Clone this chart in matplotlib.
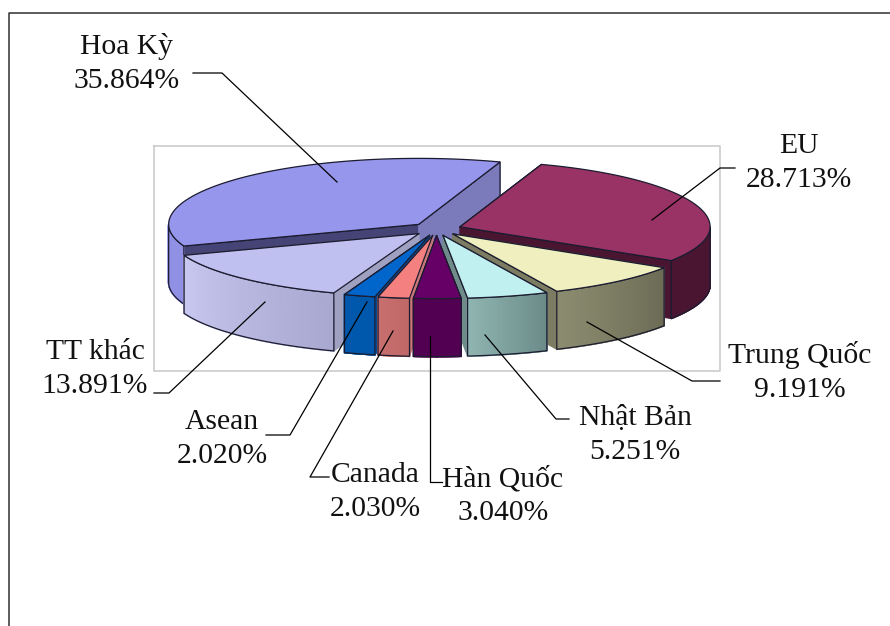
#! /usr/bin/python3
# -*- coding: utf-8 -*-

import matplotlib
matplotlib.use("Agg")
import matplotlib.pyplot as plt
import numpy as np
from matplotlib.colors import to_rgb
from matplotlib.patches import Polygon

# data, clockwise from the EU slice
names = ["EU", "Trung Quốc", "Nhật Bản", "Hàn Quốc", "Canada", "Asean", "TT khác", "Hoa Kỳ"]
values = [28.713, 9.191, 5.251, 3.040, 2.030, 2.020, 13.891, 35.864]

top_colors = ["#993366", "#efefc0", "#c0f0f0", "#660066", "#f48080", "#0066cc", "#c0c0f0", "#9696ec"]
rim_left = ["#4a1530", "#8c8c70", "#90b6b2", "#520052", "#c87070", "#0058ac", "#c8c8f0", "#9090e4"]
rim_right = ["#4a1530", "#6c6c56", "#6c8c8a", "#520052", "#c06868", "#0058ac", "#a8a8d0", "#9090e4"]
start_face = ["#4a1530", "#7c7c62", "#7c9a98", "#520052", "#c87878", "#004a94", "#a0a0c0", "#444477"]
end_face = ["#4a1530", "#7c7c62", "#6f8c8a", "#520052", "#c87878", "#004a94", "#a0a0c0", "#7b7bbb"]

# pie geometry in pixels, the front half is a bit flatter than the back
cx, cy = 436.5, 229
rx, ry_back, ry_front = 250, 66, 63
depth = 58
explode = 0.1
start_angle = 19

# label centre, leader line
label_pos = {
    "Hoa Kỳ": (127, 63), "EU": (799, 163), "Trung Quốc": (800, 372), "Nhật Bản": (635, 435),
    "Hàn Quốc": (503, 496), "Canada": (375, 492), "Asean": (222, 439), "TT khác": (95, 369),
}
leaders = {
    "Hoa Kỳ": [(193, 73), (222, 73), (337, 182)],
    "EU": [(735, 168), (720, 168), (652, 220)],
    "Trung Quốc": [(720, 381), (692, 381), (587, 322)],
    "Nhật Bản": [(569, 419), (556, 419), (485, 335)],
    "Hàn Quốc": [(442, 482), (430, 482), (430, 336)],
    "Canada": [(329, 477), (310, 477), (393, 331)],
    "Asean": [(266, 435), (290, 435), (367, 302)],
    "TT khác": [(154, 393), (169, 393), (265, 302)],
}
draw_order = ["Hoa Kỳ", "EU", "TT khác", "Trung Quốc", "Asean", "Nhật Bản", "Canada", "Hàn Quốc"]
edge = "#1c1c30"


def rim_point(ax0, ay0, theta):
    t = np.radians(theta)
    c = np.cos(t)
    return ax0 + rx * np.sin(t), ay0 - np.where(c > 0, ry_back, ry_front) * c


fig = plt.figure(figsize=(8.9, 6.26), dpi=100)
ax = fig.add_axes([0, 0, 1, 1])
ax.set_xlim(0, 890)
ax.set_ylim(626, 0)
ax.axis("off")

# outer frame (open at the bottom and right) and plot area
ax.plot([8.5, 8.5, 890], [626, 12.5, 12.5], color="#303030", lw=1.1, zorder=1)
ax.plot([154, 720, 720, 154, 154], [145.5, 145.5, 371, 371, 145.5], color="#c8c8c8", lw=1.1, zorder=1)

angles = start_angle + np.concatenate([[0], np.cumsum(values)]) * 3.6
z = 2
for name in draw_order:
    i = names.index(name)
    a0, a1 = angles[i], angles[i + 1]
    mid = np.radians((a0 + a1) / 2)
    ax0 = cx + explode * rx * np.sin(mid)
    ay0 = cy - explode * ry_back * np.cos(mid)

    # cut faces, no dark line along the bottom edge
    for a, col in ((a0, start_face[i]), (a1, end_face[i])):
        px, py = rim_point(ax0, ay0, a)
        ax.add_patch(Polygon([(ax0, ay0), (px, py), (px, py + depth), (ax0, ay0 + depth)],
                             closed=True, fc=col, ec=col, lw=0.8, zorder=z))
        ax.plot([ax0, px, px], [ay0, py, py + depth], color=edge, lw=0.9, zorder=z)
        z += 1

    # outer wall, only the part facing the front, shaded from left to right
    lo, hi = max(a0, 90), min(a1, 270)
    if hi > lo:
        th = np.linspace(hi, lo, 60)
        xs, ys = rim_point(ax0, ay0, th)
        c_l, c_r = np.array(to_rgb(rim_left[i])), np.array(to_rgb(rim_right[i]))
        for k in range(len(th) - 1):
            f = k / (len(th) - 2)
            col = c_l + (c_r - c_l) * f
            ax.add_patch(Polygon([(xs[k], ys[k]), (xs[k + 1], ys[k + 1]),
                                  (xs[k + 1], ys[k + 1] + depth), (xs[k], ys[k] + depth)],
                                 closed=True, fc=col, ec=col, lw=1.2, zorder=z))
        ol_x = np.concatenate([xs, xs[::-1]])
        ol_y = np.concatenate([ys, ys[::-1] + depth])
        ax.add_patch(Polygon(np.column_stack([ol_x, ol_y]), closed=True, fill=False,
                             ec=edge, lw=0.9, zorder=z + 1))
        z += 2

    # top
    th = np.linspace(a0, a1, 120)
    xs, ys = rim_point(ax0, ay0, th)
    pts = np.column_stack([np.r_[ax0, xs], np.r_[ay0, ys]])
    ax.add_patch(Polygon(pts, closed=True, fc=top_colors[i], ec=edge, lw=0.9, zorder=z))
    z += 1

for i, name in enumerate(names):
    pts = leaders[name]
    ax.plot([p[0] for p in pts], [p[1] for p in pts], color="black", lw=0.9, zorder=z + 1)
    x, y = label_pos[name]
    ax.text(x, y, name + "\n" + "%.3f%%" % values[i], ha="center", va="center", fontsize=21.3,
            family="Liberation Serif", color="#111111", linespacing=1.4, zorder=z + 2)

fig.savefig("out.png", dpi=100)
